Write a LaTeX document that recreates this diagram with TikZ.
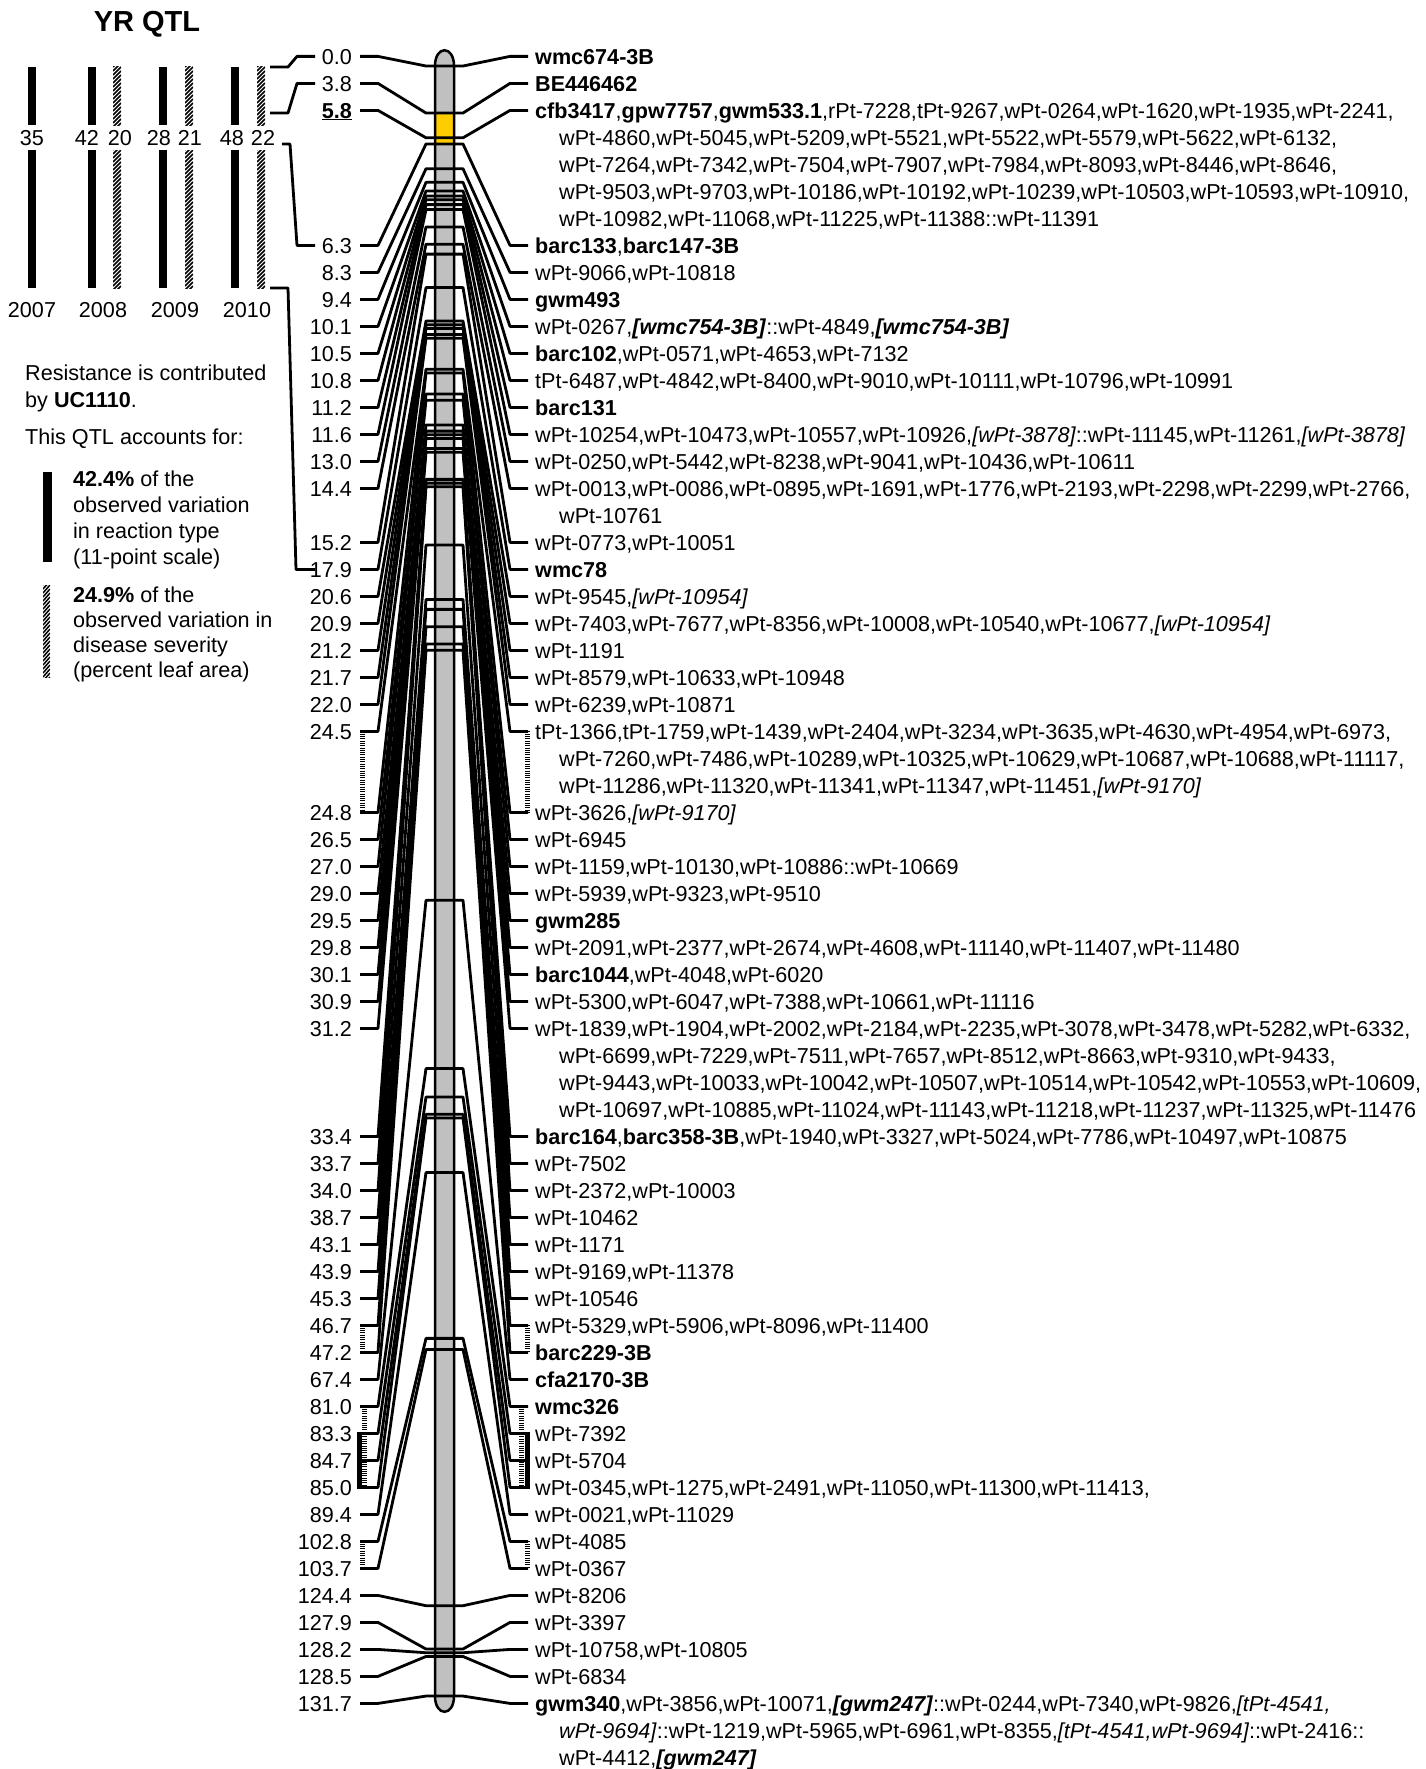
\documentclass[tikz,border=0pt]{standalone}
\usepackage{fontspec}
\setmainfont{Liberation Sans}
\definecolor{chrom}{RGB}{192,192,192}
\definecolor{qtly}{RGB}{255,204,0}
\tikzset{
 conn/.style={line width=2.8pt, line join=round},
 lab/.style={inner sep=0pt, font=\fontsize{21.6}{27}\selectfont},
 ttl/.style={inner sep=0pt, font=\fontsize{29}{30}\selectfont\bfseries},
 ladder/.style={line width=5pt, dash pattern=on 1pt off 1.3pt},
 solidbar/.style={line width=5pt},
}
\newcommand\rl[2]{\node[lab,anchor=base west] (R#1) at (535,{64+27*#1}) {#2};}
\newcommand\rc[2]{\node[lab,anchor=base west] (R#1) at (559,{64+27*#1}) {#2};}
\newcommand\hatchbar[4]{%
 \begin{scope}
 \clip (#1,#2) rectangle (#3,#4);
 \foreach \t in {-12,-8,...,148} \draw[line width=1.5pt] (#1,#2+\t+8) -- (#3,#2+\t);
 \end{scope}}
\newcommand\bi[1]{\textbf{\textit{#1}}}
\begin{document}
\begin{tikzpicture}[x=1pt,y=-1pt]
\useasboundingbox (0,0) rectangle (1425,1769);
% title
\node[ttl] (title) at (147,24) {YR QTL};
% QTL bars
\fill (28,67) rectangle (36,125); \fill (28,150) rectangle (36,288);
\fill (88,67) rectangle (96,125); \fill (88,150) rectangle (96,288);
\fill (159,67) rectangle (167,125); \fill (159,150) rectangle (167,288);
\fill (231,67) rectangle (239,125); \fill (231,150) rectangle (239,288);
\hatchbar{113}{67}{121}{125}\hatchbar{113}{150}{121}{288}
\hatchbar{185}{67}{193}{125}\hatchbar{185}{150}{193}{288}
\hatchbar{257}{67}{265}{125}\hatchbar{257}{150}{265}{288}
\node[lab,anchor=base] (n35) at (32,145.6) {35};
\node[lab,anchor=base] (n42) at (87,145.6) {42};
\node[lab,anchor=base] (n20) at (120,145.6) {20};
\node[lab,anchor=base] (n28) at (159,145.6) {28};
\node[lab,anchor=base] (n21) at (190,145.6) {21};
\node[lab,anchor=base] (n48) at (232,145.6) {48};
\node[lab,anchor=base] (n22) at (263,145.6) {22};
\node[lab,anchor=base] (y07) at (32,317.6) {2007};
\node[lab,anchor=base] (y08) at (103,317.6) {2008};
\node[lab,anchor=base] (y09) at (175,317.6) {2009};
\node[lab,anchor=base] (y10) at (247,317.6) {2010};
% QTL connectors
\draw[conn] (270,67) -- (288,67) -- (297,56.4) -- (315,56.4);
\draw[conn] (270,113) -- (288,113) -- (297,83.4) -- (315,83.4);
\draw[conn] (282,144) -- (290,144) -- (297,245.4) -- (315,245.4);
\draw[conn] (270,288) -- (288,288) -- (296,569.4) -- (315,569.4);
% legend
\node[lab,anchor=base west] (lg1) at (25,380.6) {Resistance is contributed};
\node[lab,anchor=base west] (lg2) at (25,407.6) {by \textbf{UC1110}.};
\node[lab,anchor=base west] (lg3) at (25,444.6) {This QTL accounts for:};
\fill (43,472) rectangle (51.5,562);
\node[lab,anchor=base west] (lg4) at (73,486.6) {\textbf{42.4\%} of the};
\node[lab,anchor=base west] (lg5) at (73,512.6) {observed variation};
\node[lab,anchor=base west] (lg6) at (73,538.6) {in reaction type};
\node[lab,anchor=base west] (lg7) at (73,564.6) {(11-point scale)};
\hatchbar{43}{585}{50}{677}
\node[lab,anchor=base west] (lg8) at (73,602.6) {\textbf{24.9\%} of the};
\node[lab,anchor=base west] (lg9) at (73,627.6) {observed variation in};
\node[lab,anchor=base west] (lg10) at (73,652.6) {disease severity};
\node[lab,anchor=base west] (lg11) at (73,677.6) {(percent leaf area)};
% chromosome
\path[fill=chrom] (435,1696) -- (435,66) .. controls (435,45) and (454,45) .. (454,66) -- (454,1696) .. controls (454,1717) and (435,1717) .. (435,1696) -- cycle;
\fill[qtly] (435,113) rectangle (454,144);
% loci connectors
\foreach \c/\r in {0.0/0,3.8/1,5.8/2,6.3/7,8.3/8,9.4/9,10.1/10,10.5/11,10.8/12,11.2/13,11.6/14,13.0/15,14.4/16,15.2/18,17.9/19,20.6/20,20.9/21,21.2/22,21.7/23,22.0/24,24.5/25,24.8/28,26.5/29,27.0/30,29.0/31,29.5/32,29.8/33,30.1/34,30.9/35,31.2/36,33.4/40,33.7/41,34.0/42,38.7/43,43.1/44,43.9/45,45.3/46,46.7/47,47.2/48,67.4/49,81.0/50,83.3/51,84.7/52,85.0/53,89.4/54,102.8/55,103.7/56,124.4/57,127.9/58,128.2/59,128.5/60,131.7/61}{
 \pgfmathsetmacro\lyv{66+12.377*\c}
 \pgfmathsetmacro\ryv{56.4+27*\r}
 \draw[conn] (360,\ryv) -- (378,\ryv) -- (426,\lyv) -- (463,\lyv) -- (510,\ryv) -- (528,\ryv);
}
\draw[line width=2.5pt] (435,1696) -- (435,66) .. controls (435,45) and (454,45) .. (454,66) -- (454,1696) .. controls (454,1717) and (435,1717) .. (435,1696) -- cycle;
% left labels
\foreach \c/\r in {0.0/0,3.8/1,6.3/7,8.3/8,9.4/9,10.1/10,10.5/11,10.8/12,11.2/13,11.6/14,13.0/15,14.4/16,15.2/18,17.9/19,20.6/20,20.9/21,21.2/22,21.7/23,22.0/24,24.5/25,24.8/28,26.5/29,27.0/30,29.0/31,29.5/32,29.8/33,30.1/34,30.9/35,31.2/36,33.4/40,33.7/41,34.0/42,38.7/43,43.1/44,43.9/45,45.3/46,46.7/47,47.2/48,67.4/49,81.0/50,83.3/51,84.7/52,85.0/53,89.4/54,102.8/55,103.7/56,124.4/57,127.9/58,128.2/59,128.5/60,131.7/61}{
 \node[lab,anchor=base east] (L\r) at (352,{64+27*\r}) {\c};
}
\node[lab,anchor=base east] (L2) at (352,{64+27*2}) {\underline{\textbf{5.8}}};
% brackets
\draw[ladder] (362.5,{56.4+27*25}) -- (362.5,{56.4+27*28});
\draw[ladder] (527,{56.4+27*25}) -- (527,{56.4+27*28});
\draw[ladder] (362.5,{56.4+27*47}) -- (362.5,{56.4+27*48});
\draw[ladder] (527,{56.4+27*47}) -- (527,{56.4+27*48});
\draw[ladder] (364.5,{56.4+27*50}) -- (364.5,{56.4+27*53});
\draw[ladder] (521.5,{56.4+27*50}) -- (521.5,{56.4+27*53});
\draw[solidbar] (359.5,{56.4+27*51-1.2}) -- (359.5,{56.4+27*53+1.2});
\draw[solidbar] (527.5,{56.4+27*51-1.2}) -- (527.5,{56.4+27*53+1.2});
\draw[ladder] (362.5,{56.4+27*55}) -- (362.5,{56.4+27*56});
\draw[ladder] (527,{56.4+27*55}) -- (527,{56.4+27*56});
% right labels
\rl{0}{\textbf{wmc674-3B}}
\rl{1}{\textbf{BE446462}}
\rl{2}{\textbf{cfb3417},\textbf{gpw7757},\textbf{gwm533.1},rPt-7228,tPt-9267,wPt-0264,wPt-1620,wPt-1935,wPt-2241,}
\rc{3}{wPt-4860,wPt-5045,wPt-5209,wPt-5521,wPt-5522,wPt-5579,wPt-5622,wPt-6132,}
\rc{4}{wPt-7264,wPt-7342,wPt-7504,wPt-7907,wPt-7984,wPt-8093,wPt-8446,wPt-8646,}
\rc{5}{wPt-9503,wPt-9703,wPt-10186,wPt-10192,wPt-10239,wPt-10503,wPt-10593,wPt-10910,}
\rc{6}{wPt-10982,wPt-11068,wPt-11225,wPt-11388::wPt-11391}
\rl{7}{\textbf{barc133},\textbf{barc147-3B}}
\rl{8}{wPt-9066,wPt-10818}
\rl{9}{\textbf{gwm493}}
\rl{10}{wPt-0267,\bi{[wmc754-3B]}::wPt-4849,\bi{[wmc754-3B]}}
\rl{11}{\textbf{barc102},wPt-0571,wPt-4653,wPt-7132}
\rl{12}{tPt-6487,wPt-4842,wPt-8400,wPt-9010,wPt-10111,wPt-10796,wPt-10991}
\rl{13}{\textbf{barc131}}
\rl{14}{wPt-10254,wPt-10473,wPt-10557,wPt-10926,\textit{[wPt-3878]}::wPt-11145,wPt-11261,\textit{[wPt-3878]}}
\rl{15}{wPt-0250,wPt-5442,wPt-8238,wPt-9041,wPt-10436,wPt-10611}
\rl{16}{wPt-0013,wPt-0086,wPt-0895,wPt-1691,wPt-1776,wPt-2193,wPt-2298,wPt-2299,wPt-2766,}
\rc{17}{wPt-10761}
\rl{18}{wPt-0773,wPt-10051}
\rl{19}{\textbf{wmc78}}
\rl{20}{wPt-9545,\textit{[wPt-10954]}}
\rl{21}{wPt-7403,wPt-7677,wPt-8356,wPt-10008,wPt-10540,wPt-10677,\textit{[wPt-10954]}}
\rl{22}{wPt-1191}
\rl{23}{wPt-8579,wPt-10633,wPt-10948}
\rl{24}{wPt-6239,wPt-10871}
\rl{25}{tPt-1366,tPt-1759,wPt-1439,wPt-2404,wPt-3234,wPt-3635,wPt-4630,wPt-4954,wPt-6973,}
\rc{26}{wPt-7260,wPt-7486,wPt-10289,wPt-10325,wPt-10629,wPt-10687,wPt-10688,wPt-11117,}
\rc{27}{wPt-11286,wPt-11320,wPt-11341,wPt-11347,wPt-11451,\textit{[wPt-9170]}}
\rl{28}{wPt-3626,\textit{[wPt-9170]}}
\rl{29}{wPt-6945}
\rl{30}{wPt-1159,wPt-10130,wPt-10886::wPt-10669}
\rl{31}{wPt-5939,wPt-9323,wPt-9510}
\rl{32}{\textbf{gwm285}}
\rl{33}{wPt-2091,wPt-2377,wPt-2674,wPt-4608,wPt-11140,wPt-11407,wPt-11480}
\rl{34}{\textbf{barc1044},wPt-4048,wPt-6020}
\rl{35}{wPt-5300,wPt-6047,wPt-7388,wPt-10661,wPt-11116}
\rl{36}{wPt-1839,wPt-1904,wPt-2002,wPt-2184,wPt-2235,wPt-3078,wPt-3478,wPt-5282,wPt-6332,}
\rc{37}{wPt-6699,wPt-7229,wPt-7511,wPt-7657,wPt-8512,wPt-8663,wPt-9310,wPt-9433,}
\rc{38}{wPt-9443,wPt-10033,wPt-10042,wPt-10507,wPt-10514,wPt-10542,wPt-10553,wPt-10609,}
\rc{39}{wPt-10697,wPt-10885,wPt-11024,wPt-11143,wPt-11218,wPt-11237,wPt-11325,wPt-11476}
\rl{40}{\textbf{barc164},\textbf{barc358-3B},wPt-1940,wPt-3327,wPt-5024,wPt-7786,wPt-10497,wPt-10875}
\rl{41}{wPt-7502}
\rl{42}{wPt-2372,wPt-10003}
\rl{43}{wPt-10462}
\rl{44}{wPt-1171}
\rl{45}{wPt-9169,wPt-11378}
\rl{46}{wPt-10546}
\rl{47}{wPt-5329,wPt-5906,wPt-8096,wPt-11400}
\rl{48}{\textbf{barc229-3B}}
\rl{49}{\textbf{cfa2170-3B}}
\rl{50}{\textbf{wmc326}}
\rl{51}{wPt-7392}
\rl{52}{wPt-5704}
\rl{53}{wPt-0345,wPt-1275,wPt-2491,wPt-11050,wPt-11300,wPt-11413,}
\rl{54}{wPt-0021,wPt-11029}
\rl{55}{wPt-4085}
\rl{56}{wPt-0367}
\rl{57}{wPt-8206}
\rl{58}{wPt-3397}
\rl{59}{wPt-10758,wPt-10805}
\rl{60}{wPt-6834}
\rl{61}{\textbf{gwm340},wPt-3856,wPt-10071,\bi{[gwm247]}::wPt-0244,wPt-7340,wPt-9826,\textit{[tPt-4541,}}
\rc{62}{\textit{wPt-9694]}::wPt-1219,wPt-5965,wPt-6961,wPt-8355,\textit{[tPt-4541,wPt-9694]}::wPt-2416::}
\rc{63}{wPt-4412,\bi{[gwm247]}}
\end{tikzpicture}
\end{document}
